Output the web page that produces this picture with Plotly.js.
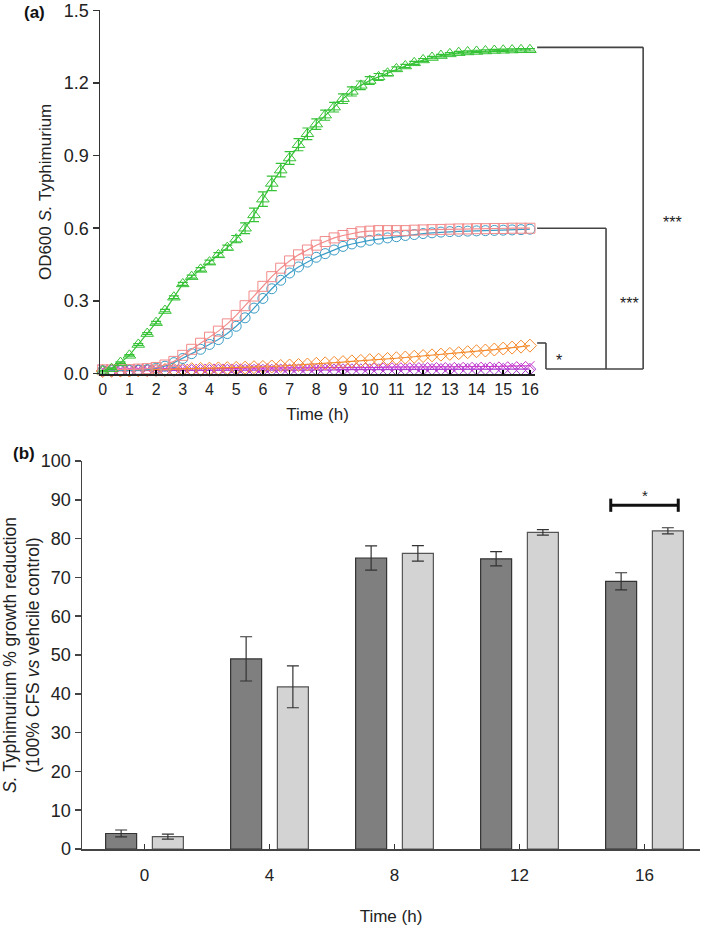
<!DOCTYPE html>
<html>
<head>
<meta charset="utf-8">
<script src="https://cdn.plot.ly/plotly-3.0.1.min.js"></script>
<style>
  html, body { margin: 0; padding: 0; background: #fff; }
  #chart { width: 709px; height: 929px; }
</style>
</head>
<body>
<div id="chart"></div>
<script>
// ---------- Panel (a): OD600 growth curves ----------
const timeH = [0, 0.333, 0.667, 1, 1.333, 1.667, 2, 2.333, 2.667, 3, 3.333, 3.667, 4, 4.333, 4.667, 5, 5.333, 5.667, 6, 6.333, 6.667, 7, 7.333, 7.667, 8, 8.333, 8.667, 9, 9.333, 9.667, 10, 10.333, 10.667, 11, 11.333, 11.667, 12, 12.333, 12.667, 13, 13.333, 13.667, 14, 14.333, 14.667, 15, 15.333, 15.667, 16];

const greenOD = [0.01,0.02,0.045,0.075,0.12,0.165,0.21,0.26,0.315,0.37,0.40,0.43,0.46,0.49,0.52,0.555,0.60,0.655,0.72,0.785,0.84,0.89,0.945,0.99,1.03,1.067,1.10,1.135,1.165,1.19,1.21,1.225,1.24,1.258,1.27,1.283,1.295,1.305,1.313,1.32,1.325,1.328,1.33,1.332,1.334,1.335,1.336,1.337,1.337];
const greenErr = [0.003,0.003,0.003,0.003,0.004,0.004,0.005,0.005,0.006,0.006,0.006,0.007,0.008,0.009,0.01,0.015,0.022,0.028,0.03,0.03,0.028,0.026,0.025,0.024,0.022,0.021,0.02,0.02,0.019,0.018,0.016,0.014,0.01,0.008,0.007,0.006,0.006,0.005,0.005,0.005,0.005,0.005,0.005,0.005,0.005,0.005,0.005,0.005,0.005];
const pinkOD = [0.015,0.015,0.015,0.016,0.018,0.02,0.025,0.035,0.05,0.075,0.10,0.125,0.15,0.175,0.205,0.24,0.28,0.32,0.36,0.40,0.435,0.465,0.49,0.51,0.53,0.545,0.56,0.57,0.578,0.585,0.588,0.59,0.59,0.59,0.59,0.592,0.593,0.594,0.595,0.596,0.597,0.597,0.598,0.598,0.599,0.599,0.6,0.6,0.6];
const blueOD = [0.012,0.012,0.012,0.013,0.014,0.016,0.022,0.03,0.045,0.062,0.082,0.10,0.12,0.14,0.165,0.195,0.23,0.27,0.31,0.35,0.385,0.415,0.44,0.46,0.48,0.495,0.51,0.525,0.535,0.543,0.55,0.555,0.56,0.565,0.57,0.574,0.578,0.581,0.584,0.586,0.587,0.588,0.589,0.59,0.591,0.592,0.593,0.594,0.596];
const orangeOD = [0.01,0.011,0.012,0.012,0.013,0.014,0.015,0.015,0.016,0.017,0.018,0.019,0.02,0.021,0.022,0.023,0.024,0.026,0.027,0.029,0.031,0.033,0.035,0.037,0.04,0.042,0.044,0.047,0.05,0.052,0.055,0.057,0.06,0.063,0.066,0.069,0.072,0.075,0.078,0.081,0.084,0.088,0.092,0.095,0.099,0.103,0.107,0.111,0.115];
const magentaOD = [0.018,0.018,0.018,0.018,0.019,0.019,0.019,0.019,0.02,0.02,0.02,0.02,0.021,0.021,0.021,0.021,0.022,0.022,0.022,0.022,0.023,0.023,0.023,0.023,0.024,0.024,0.024,0.024,0.025,0.025,0.025,0.025,0.026,0.026,0.026,0.026,0.027,0.027,0.027,0.027,0.028,0.028,0.028,0.029,0.029,0.03,0.03,0.031,0.032];
const purpleOD = [0.012,0.012,0.012,0.012,0.012,0.012,0.013,0.013,0.013,0.013,0.013,0.013,0.013,0.014,0.014,0.014,0.014,0.014,0.014,0.014,0.015,0.015,0.015,0.015,0.015,0.015,0.015,0.016,0.016,0.016,0.016,0.016,0.016,0.016,0.017,0.017,0.017,0.017,0.017,0.017,0.017,0.018,0.018,0.018,0.018,0.018,0.018,0.018,0.018];

const odTickVals = [0, 0.3, 0.6, 0.9, 1.2, 1.5];
const odTickText = ['0.0', '0.3', '0.6', '0.9', '1.2', '1.5'];

// significance brackets of panel (a)
const sigA = [
  { top: 1.347, xr: 20.24, label: '***', lx: 20.9, ly: 0.622 },
  { top: 0.600, xr: 18.85, label: '***', lx: 19.3, ly: 0.288 },
  { top: 0.126, xr: 16.60, label: '*',   lx: 16.9, ly: 0.052 }
];
const sigBase = 0.0186;

// ---------- Panel (b): growth reduction bars ----------
const barTimes = ['0', '4', '8', '12', '16'];
const darkVals = [4.0, 49.0, 75.0, 74.8, 69.0];
const darkErr  = [0.9, 5.7, 3.1, 1.85, 2.2];
const lightVals = [3.2, 41.8, 76.2, 81.6, 82.0];
const lightErr  = [0.65, 5.4, 2.0, 0.7, 0.8];
const sigB = { group: 4, y: 88.6, half: 0.27, label: '*' };

// ---------- geometry ----------
const W = 709, H = 929;
const FONT = 'Liberation Sans, Arial, Helvetica, sans-serif';
const axA = { dom: [100 / W, 535 / W], range: [-0.1, 16.19] };
const ayA = { dom: [1 - 373.5 / H, 1 - 10.3 / H], range: [0, 1.5] };
const axB = { dom: [82 / W, 700 / W], range: [-0.5, 4.444] };
const ayB = { dom: [1 - 849 / H, 1 - 461 / H], range: [0, 100] };

function toPaper(ax, v) {
  return ax.dom[0] + (v - ax.range[0]) / (ax.range[1] - ax.range[0]) * (ax.dom[1] - ax.dom[0]);
}

function lineTrace(y, color, symbol, size, err) {
  const t = {
    x: timeH, y: y, type: 'scatter', mode: 'lines+markers',
    xaxis: 'x', yaxis: 'y', cliponaxis: false, hoverinfo: 'skip',
    line: { color: color, width: 1.2 },
    marker: { symbol: symbol, size: size, color: color, line: { color: color, width: 1 } }
  };
  if (err) t.error_y = { type: 'data', array: err, visible: true, color: color, thickness: 1.2, width: 5 };
  return t;
}

const traces = [
  lineTrace(purpleOD, '#a23fd0', 'diamond-open', 9),
  lineTrace(magentaOD, '#cc35cc', 'x-thin-open', 9),
  lineTrace(orangeOD, '#f58a2c', 'diamond-open', 10),
  lineTrace(blueOD, '#3a9cc6', 'circle-open', 10),
  lineTrace(pinkOD, '#f28a8a', 'square-open', 10),
  lineTrace(greenOD, '#36c236', 'triangle-up-open', 11, greenErr),
  {
    x: barTimes, y: darkVals, type: 'bar', xaxis: 'x2', yaxis: 'y2', hoverinfo: 'skip',
    marker: { color: '#7f7f7f', line: { color: '#333', width: 1.2 } },
    error_y: { type: 'data', array: darkErr, visible: true, color: '#333', thickness: 1.2, width: 6 }
  },
  {
    x: barTimes, y: lightVals, type: 'bar', xaxis: 'x2', yaxis: 'y2', hoverinfo: 'skip',
    marker: { color: '#d3d3d3', line: { color: '#555', width: 1.2 } },
    error_y: { type: 'data', array: lightErr, visible: true, color: '#333', thickness: 1.2, width: 6 }
  }
];

const shapes = [];
const annotations = [];
const bracketLine = { color: '#444', width: 1.6 };
const xBaseLeft = toPaper(axA, 16.6);
const xStart = toPaper(axA, 16.27);
let xRightMost = xBaseLeft;
sigA.forEach(s => {
  const xr = toPaper(axA, s.xr);
  const yt = toPaper(ayA, s.top);
  const yb = toPaper(ayA, sigBase);
  shapes.push({ type: 'line', xref: 'paper', yref: 'paper', x0: xStart, x1: xr, y0: yt, y1: yt, line: bracketLine });
  shapes.push({ type: 'line', xref: 'paper', yref: 'paper', x0: xr, x1: xr, y0: yt, y1: yb, line: bracketLine });
  if (xr > xRightMost) xRightMost = xr;
  annotations.push({ xref: 'paper', yref: 'paper', x: toPaper(axA, s.lx), y: toPaper(ayA, s.ly), text: s.label,
    showarrow: false, xanchor: 'left', yanchor: 'middle', font: { family: FONT, size: 16, color: '#222' } });
});
shapes.push({ type: 'line', xref: 'paper', yref: 'paper', x0: xBaseLeft, x1: xRightMost,
  y0: toPaper(ayA, sigBase), y1: toPaper(ayA, sigBase), line: bracketLine });

// panel (b) significance bar
const sbLine = { color: '#111', width: 3 };
shapes.push({ type: 'line', xref: 'x2', yref: 'y2', x0: sigB.group - sigB.half, x1: sigB.group + sigB.half, y0: sigB.y, y1: sigB.y, line: sbLine });
shapes.push({ type: 'line', xref: 'x2', yref: 'y2', x0: sigB.group - sigB.half, x1: sigB.group - sigB.half, y0: sigB.y - 1.7, y1: sigB.y + 1.7, line: sbLine });
shapes.push({ type: 'line', xref: 'x2', yref: 'y2', x0: sigB.group + sigB.half, x1: sigB.group + sigB.half, y0: sigB.y - 1.7, y1: sigB.y + 1.7, line: sbLine });
annotations.push({ xref: 'x2', yref: 'y2', x: sigB.group, y: sigB.y + 2.6, text: sigB.label, showarrow: false,
  xanchor: 'center', yanchor: 'middle', font: { family: FONT, size: 15, color: '#222' } });

// panel letters
annotations.push({ xref: 'paper', yref: 'paper', x: 22 / W, y: 1 - 13 / H, text: '<b>(a)</b>', showarrow: false,
  xanchor: 'left', yanchor: 'middle', font: { family: FONT, size: 17, color: '#111' } });
annotations.push({ xref: 'paper', yref: 'paper', x: 11 / W, y: 1 - 453 / H, text: '<b>(b)</b>', showarrow: false,
  xanchor: 'left', yanchor: 'middle', font: { family: FONT, size: 17, color: '#111' } });

const layout = {
  width: W, height: H,
  margin: { l: 0, r: 0, t: 0, b: 0 },
  paper_bgcolor: '#fff', plot_bgcolor: 'rgba(0,0,0,0)',
  showlegend: false,
  barmode: 'group', bargap: 0.252, bargroupgap: 0.337,
  font: { family: FONT, color: '#222' },
  xaxis: {
    domain: axA.dom, range: axA.range, anchor: 'y',
    tickmode: 'linear', tick0: 0, dtick: 1,
    ticks: 'inside', ticklen: 4, tickwidth: 1.5, tickcolor: '#000',
    showline: true, linecolor: '#222', linewidth: 2,
    showgrid: false, zeroline: false,
    tickfont: { family: FONT, size: 16, color: '#222' },
    title: { text: 'Time (h)', font: { family: FONT, size: 17, color: '#222' }, standoff: 11 }
  },
  yaxis: {
    domain: ayA.dom, range: ayA.range, anchor: 'x',
    tickmode: 'array', tickvals: odTickVals, ticktext: odTickText,
    ticks: 'outside', ticklen: 6, tickwidth: 1.5, tickcolor: '#333',
    showline: true, linecolor: '#333', linewidth: 1.5,
    showgrid: false, zeroline: false,
    tickfont: { family: FONT, size: 18, color: '#222' },
    title: { text: 'OD600 <i>S.</i> Typhimurium', font: { family: FONT, size: 17, color: '#222' }, standoff: 8 }
  },
  xaxis2: {
    domain: axB.dom, range: axB.range, anchor: 'y2', type: 'category',
    categoryorder: 'array', categoryarray: barTimes,
    ticks: 'inside', ticklen: 5, tickwidth: 1.5, tickcolor: '#333',
    showline: true, linecolor: '#444', linewidth: 2,
    showgrid: false, zeroline: false, ticklabelstandoff: 10,
    tickfont: { family: FONT, size: 17, color: '#222' },
    title: { text: 'Time (h)', font: { family: FONT, size: 17, color: '#222' }, standoff: 26 }
  },
  yaxis2: {
    domain: ayB.dom, range: ayB.range, anchor: 'x2',
    tickmode: 'linear', tick0: 0, dtick: 10,
    ticks: 'outside', ticklen: 6, tickwidth: 1.5, tickcolor: '#444',
    showline: true, linecolor: '#444', linewidth: 1.5,
    showgrid: false, zeroline: false,
    tickfont: { family: FONT, size: 18, color: '#222' },
    title: { text: '<i>S.</i> Typhimurium % growth reduction<br>(100% CFS <i>vs</i> vehcile control)',
      font: { family: FONT, size: 17.5, color: '#222' }, standoff: 4 }
  },
  shapes: shapes,
  annotations: annotations
};

Plotly.newPlot('chart', traces, layout, { staticPlot: true, displayModeBar: false });
</script>
</body>
</html>
